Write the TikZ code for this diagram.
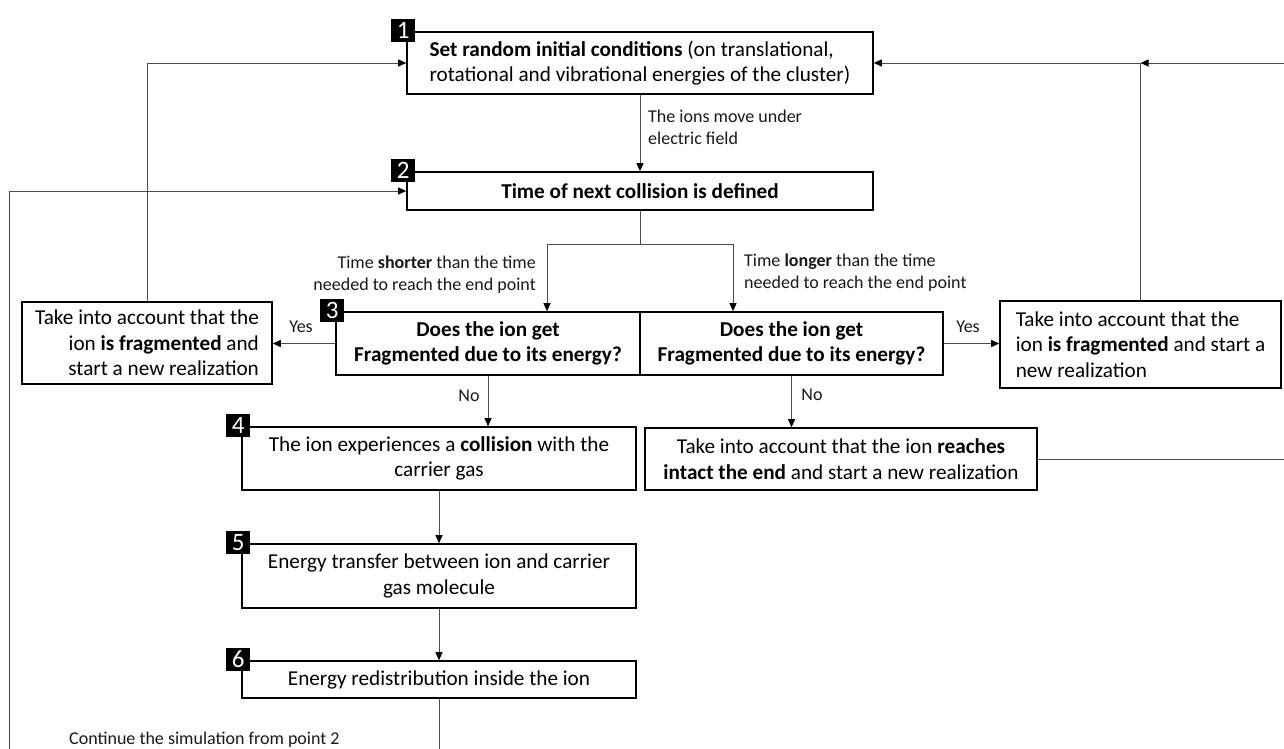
\documentclass[tikz,border=0pt]{standalone}
\usepackage{fontspec}
\setmainfont{Carlito}
\usetikzlibrary{arrows.meta}
\begin{document}
\begin{tikzpicture}[x=1pt,y=-1pt,
  box/.style={draw=black, line width=1.6pt, inner sep=0pt, align=center,
    font=\fontsize{21.2}{25.6}\selectfont, text=black},
  badge/.style={fill=black, text=white, inner sep=0pt, minimum width=24pt,
    minimum height=23pt, font=\fontsize{25}{25}\selectfont},
  lbl/.style={inner sep=0pt, font=\fontsize{18}{22}\selectfont, text=black!90},
  conn/.style={draw=black!70, line width=0.9pt},
  arr/.style={conn, -{Triangle[length=8pt,width=7pt,color=black]}}
]
\useasboundingbox (0,0) rectangle (1284,749);
\clip (0,0) rectangle (1284,749);
\fill[white] (0,0) rectangle (1284,749);

% boxes
\node[box, minimum width=466pt, minimum height=62pt, align=left] (box1) at (640,63)
  {\textbf{Set random initial conditions} (on translational,\\rotational and vibrational energies of the cluster)};
\node[box, minimum width=466pt, minimum height=38pt] (box2) at (640,191)
  {\textbf{Time of next collision is defined}};
\node[box, minimum width=304pt, minimum height=63pt] (q1) at (488,343.5)
  {\textbf{Does the ion get}\\\textbf{Fragmented due to its energy?}};
\node[box, minimum width=303pt, minimum height=63pt] (q2) at (791.5,343.5)
  {\textbf{Does the ion get}\\\textbf{Fragmented due to its energy?}};
\node[box, minimum width=250pt, minimum height=82pt, align=right] (fragL) at (147,343)
  {Take into account that the\\ion \textbf{is fragmented} and\\start a new realization};
\node[box, minimum width=281pt, minimum height=87pt, align=left] (fragR) at (1140.5,344.5)
  {Take into account that the\\ion \textbf{is fragmented} and start a\\new realization};
\node[box, minimum width=392pt, minimum height=62pt] (reach) at (841,459)
  {Take into account that the ion \textbf{reaches}\\\textbf{intact the end} and start a new realization};
\node[box, minimum width=394pt, minimum height=63pt] (b4) at (439,458.5)
  {The ion experiences a \textbf{collision} with the\\carrier gas};
\node[box, minimum width=394pt, minimum height=64pt] (b5) at (439,576)
  {Energy transfer between ion and carrier\\gas molecule};
\node[box, minimum width=394pt, minimum height=37pt] (b6) at (439,679.5)
  {Energy redistribution inside the ion};

% badges
\node[badge] (n1) at ([xshift=-3pt,yshift=1pt]box1.north west) {1};
\node[badge] (n2) at ([xshift=-3pt,yshift=1pt]box2.north west) {2};
\node[badge] (n3) at ([xshift=-3pt,yshift=1pt]q1.north west) {3};
\node[badge] (n4) at ([xshift=-3pt,yshift=1pt]b4.north west) {4};
\node[badge] (n5) at ([xshift=-3pt,yshift=1pt]b5.north west) {5};
\node[badge] (n6) at ([xshift=-3pt,yshift=1pt]b6.north west) {6};

% connectors
\draw[arr] (box1.south) -- (box2.north);
\node[lbl, anchor=west, align=left] (lmove) at (648,127.5) {The ions move under\\electric field};

\coordinate (split) at ([yshift=-34pt]box2.south);
\draw[conn] (box2.south) -- (split);
\draw[arr] (split) -| ([xshift=59pt]q1.north);
\draw[arr] (split) -| ([xshift=-58.5pt]q2.north);
\node[lbl, anchor=east, align=right] (lshort) at (536,274.5) {Time \textbf{shorter} than the time\\needed to reach the end point};
\node[lbl, anchor=west, align=left] (llong) at (744,273) {Time \textbf{longer} than the time\\needed to reach the end point};

\draw[arr] (q1.west) -- (q1.west -| fragL.east);
\node[lbl] (yes1) at (301,327) {Yes};
\draw[arr] (q2.east) -- (q2.east -| fragR.west);
\node[lbl] (yes2) at (968,327) {Yes};

\draw[arr] (fragL.north) |- (box1.west);
\coordinate (junc) at (fragR.north |- box1.east);
\draw[arr] (fragR.north) |- (box1.east);
\coordinate (rc) at (1295,63);
\draw[arr] (reach.east) -| (rc) -- (junc);

\draw[arr] (q1.south) -- (q1.south |- b4.north);
\node[lbl] (no1) at (469,396) {No};
\draw[arr] (q2.south) -- (q2.south |- reach.north);
\node[lbl] (no2) at (812,395) {No};

\draw[arr] (b4.south) -- (b5.north);
\draw[arr] (b5.south) -- (b6.north);
\coordinate (botL) at (9,775);
\draw[arr] (b6.south) |- (botL) |- (box2.west);
\node[lbl, anchor=west] (lcont) at (69,740) {Continue the simulation from point 2};
\end{tikzpicture}
\end{document}
